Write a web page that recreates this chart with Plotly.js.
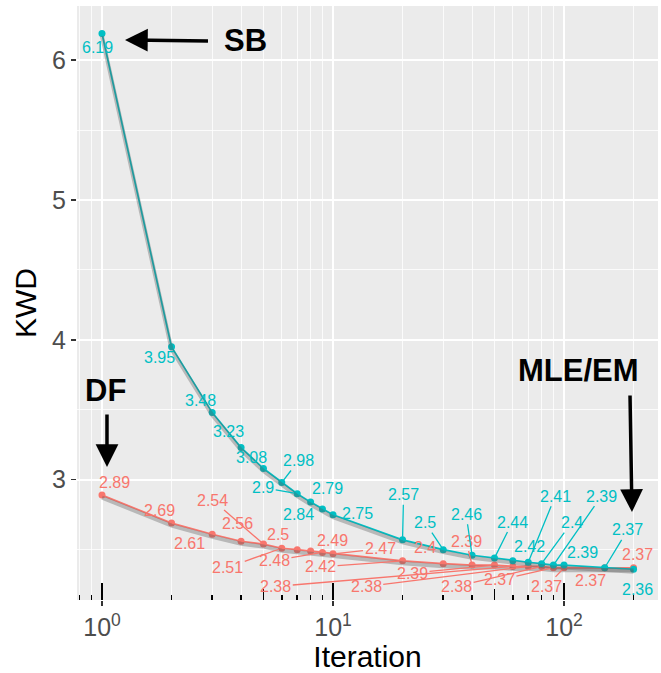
<!DOCTYPE html>
<html>
<head>
<meta charset="utf-8">
<script src="https://cdn.plot.ly/plotly-3.0.1.min.js"></script>
<style>
  html, body { margin: 0; padding: 0; background: #ffffff; }
  #chart { width: 661px; height: 673px; }
</style>
</head>
<body>
<div id="chart"></div>
<script>
// ---- data ----
const iterations = [1, 2, 3, 4, 5, 6, 7, 8, 9, 10, 20, 30, 40, 50, 60, 70, 80, 90, 100, 150, 200];
const sbKWD = [6.19, 3.95, 3.48, 3.23, 3.08, 2.98, 2.9, 2.84, 2.79, 2.75, 2.57, 2.5, 2.46, 2.44, 2.42, 2.41, 2.4, 2.39, 2.39, 2.37, 2.36];
const dfKWD = [2.89, 2.69, 2.61, 2.56, 2.54, 2.51, 2.5, 2.49, 2.48, 2.47, 2.42, 2.4, 2.39, 2.39, 2.38, 2.38, 2.38, 2.37, 2.37, 2.37, 2.37];
const seriesNames = ["SB", "DF"];
const xTickVals = [1, 10, 100];
const xTickText = ["10<sup>0</sup>", "10<sup>1</sup>", "10<sup>2</sup>"];
const xMinorVals = [0.8, 0.9, 2, 3, 4, 5, 6, 7, 8, 9, 20, 30, 40, 50, 60, 70, 80, 90, 200];
const logMidVals = [5, 50];
const logShortVals = [0.8, 0.9, 2, 3, 4, 6, 7, 8, 9, 20, 30, 40, 60, 70, 80, 90, 200];
const yTickVals = [3, 4, 5, 6];
const yMinorVals = [2.5, 3.5, 4.5, 5.5];

// ---- label placement (repel offsets in px: dx, dy, segment) ----
const sbLabelPos = [[-4,14,0],[-12,11,0],[-12,-12,0],[-13,-16,0],[-12,-11,0],[17,-22,1],[-34,-6,1],[-12,12,0],[5,-21,0],[24,-1,0],
  [1,-45,1],[-18,-27,1],[-6,-41,1],[18,-36,1],[17,-14,0],[27,-66,1],[30,-41,1],[48,-69,1],[18,-13,0],[23,-38,1],[4,20,0]];
const dfLabelPos = [[13,-13,0],[-12,-13,0],[-23,9,0],[-4,-18,0],[-51,-44,1],[-54,19,1],[-19,-15,0],[22,-11,0],[-48,8,1],[47,-5,1],
  [-82,6,1],[-18,-16,0],[-6,-24,1],[-82,8,1],[-237,20,1],[-162,20,1],[-85,20,1],[-54,12,1],[-18,19,1],[-14,13,0],[4,-13,0]];

const CYAN = "#00BFC4", RED = "#F8766D";
const FONT = "Liberation Sans, Arial, Helvetica, sans-serif";
const xRange = [-0.1082, 2.4069];
const yRange = [2.14, 6.387];
const shadowShift = 0.018;

const traces = [
  { x: iterations, y: dfKWD, xaxis: "x2", yaxis: "y2", mode: "lines", line: { color: "rgba(90,90,90,0.35)", width: 4 }, hoverinfo: "skip", showlegend: false },
  { x: iterations, y: sbKWD, xaxis: "x3", yaxis: "y2", mode: "lines", line: { color: "rgba(90,90,90,0.35)", width: 4 }, hoverinfo: "skip", showlegend: false },
  { x: iterations, y: dfKWD, name: seriesNames[1], mode: "lines+markers", line: { color: RED, width: 1.7 }, marker: { color: RED, size: 7 }, showlegend: false },
  { x: iterations, y: sbKWD, name: seriesNames[0], mode: "lines+markers", line: { color: CYAN, width: 1.7 }, marker: { color: CYAN, size: 7 }, showlegend: false }
];

const annotations = [];
function addLabels(vals, pos, color) {
  vals.forEach((v, i) => {
    const [dx, dy, seg] = pos[i];
    const a = { x: Math.log10(iterations[i]), y: v, xref: "x", yref: "y", text: String(v),
      font: { family: FONT, size: 16, color: color } };
    if (seg) {
      Object.assign(a, { showarrow: true, arrowhead: 0, arrowwidth: 1.3, arrowcolor: color, ax: dx, ay: dy, standoff: 3 });
    } else {
      Object.assign(a, { showarrow: false, xshift: dx, yshift: -dy });
    }
    annotations.push(a);
  });
}
addLabels(dfKWD, dfLabelPos, RED);
addLabels(sbKWD, sbLabelPos, CYAN);

const bigFont = { family: FONT, size: 31, color: "#000000", weight: "bold" };
const txt = (x, y, t) => ({ xref: "paper", yref: "paper", x: x, y: y, xanchor: "center", yanchor: "middle", text: "<b>" + t + "</b>", showarrow: false, font: bigFont });
const arr = (x, y, ax, ay) => ({ xref: "paper", yref: "paper", x: x, y: y, text: " ", font: { size: 2 }, showarrow: true, arrowhead: 2, arrowsize: 1.3, arrowwidth: 3.5, arrowcolor: "#000", ax: ax, ay: ay, standoff: 0 });
annotations.push(
  txt(0.2892, 0.9411, "SB"),
  arr(0.0826, 0.9428, 85, 1),
  txt(0.0499, 0.3519, "DF"),
  arr(0.0516, 0.2239, 0, -55),
  txt(0.864, 0.3872, "MLE/EM"),
  arr(0.9552, 0.1481, -2, -119)
);

const hiddenOverlay = (extra) => Object.assign({
  type: "log", range: xRange, overlaying: "x", anchor: "y2", side: "bottom",
  showgrid: false, zeroline: false, showline: false, showticklabels: false,
  tickmode: "array", ticks: "inside", tickcolor: "#000000", tickwidth: 1.5
}, extra);

const layout = {
  width: 661, height: 673,
  margin: { l: 77, r: 3, t: 6, b: 73 },
  paper_bgcolor: "#ffffff",
  plot_bgcolor: "#EBEBEB",
  font: { family: FONT },
  showlegend: false,
  xaxis: {
    type: "log", range: xRange,
    tickmode: "array", tickvals: xTickVals, ticktext: xTickText,
    ticks: "outside", ticklen: 5, tickwidth: 1.5, tickcolor: "#333333",
    tickfont: { family: FONT, size: 25, color: "#4D4D4D" },
    showgrid: true, gridcolor: "#FFFFFF", gridwidth: 1.6,
    minor: { tickmode: "array", tickvals: xMinorVals, showgrid: true, gridcolor: "#FFFFFF", gridwidth: 0.8, ticks: "" },
    zeroline: false, showline: false,
    title: { text: "Iteration", font: { family: FONT, size: 30, color: "#000000" }, standoff: 8 }
  },
  xaxis2: hiddenOverlay({ tickvals: xTickVals, ticklen: 17,
    minor: { tickmode: "array", tickvals: logShortVals, ticks: "inside", ticklen: 5.5, tickwidth: 1.5, tickcolor: "#000000", showgrid: false } }),
  xaxis3: hiddenOverlay({ tickvals: logMidVals, ticklen: 11 }),
  yaxis: {
    range: yRange,
    tickmode: "array", tickvals: yTickVals,
    ticks: "outside", ticklen: 5, tickwidth: 1.5, tickcolor: "#333333",
    tickfont: { family: FONT, size: 25, color: "#4D4D4D" },
    showgrid: true, gridcolor: "#FFFFFF", gridwidth: 1.6,
    minor: { tickmode: "array", tickvals: yMinorVals, showgrid: true, gridcolor: "#FFFFFF", gridwidth: 0.8, ticks: "" },
    zeroline: false, showline: false,
    title: { text: "KWD", font: { family: FONT, size: 30, color: "#000000" }, standoff: 6 }
  },
  yaxis2: {
    range: [yRange[0] + shadowShift, yRange[1] + shadowShift], overlaying: "y", anchor: "x",
    showgrid: false, zeroline: false, showline: false, showticklabels: false, ticks: ""
  },
  annotations: annotations
};

Plotly.newPlot("chart", traces, layout, { displayModeBar: false, staticPlot: true });
</script>
</body>
</html>
